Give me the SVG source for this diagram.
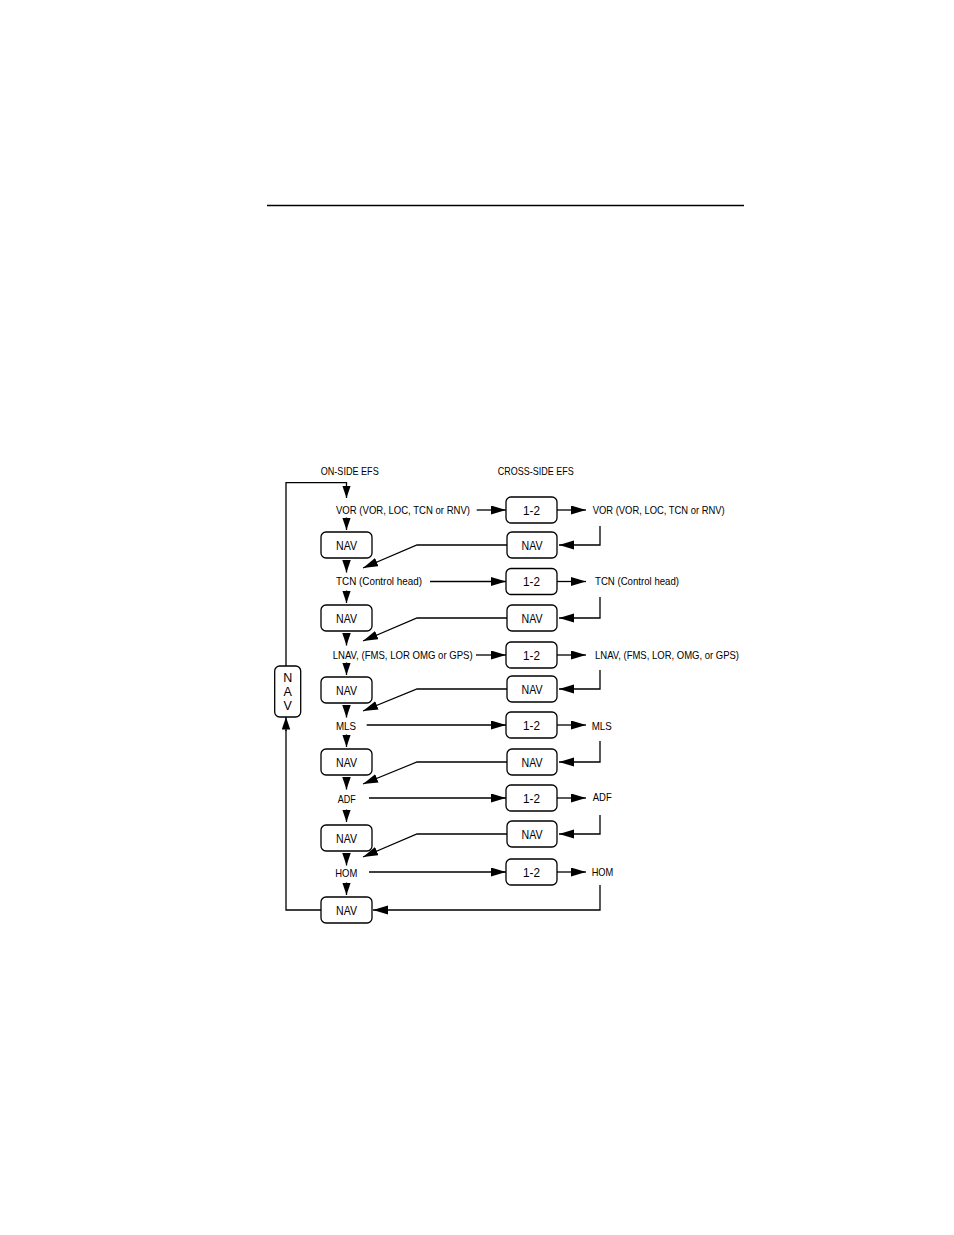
<svg xmlns="http://www.w3.org/2000/svg" width="954" height="1235" viewBox="0 0 954 1235">
<defs>
<marker id="ah" markerUnits="userSpaceOnUse" markerWidth="16" markerHeight="10" refX="15" refY="4.5" orient="auto">
<path d="M0,0 L15,4.5 L0,9 z" fill="#000"/>
</marker>
<marker id="av" markerUnits="userSpaceOnUse" markerWidth="13" markerHeight="10" refX="12.5" refY="4.25" orient="auto">
<path d="M0,0 L12.5,4.25 L0,8.5 z" fill="#000"/>
</marker>
<style>
.box{fill:#fff;stroke:#000;stroke-width:1.3}
.lbl{font-family:"Liberation Sans",Arial,sans-serif;font-size:10.3px;fill:#000}
.bl{font-family:"Liberation Sans",Arial,sans-serif;font-size:12.5px;fill:#000;text-anchor:middle}
.c{fill:none;stroke:#000;stroke-width:1.3}
.a{fill:none;stroke:#000;stroke-width:1.3;marker-end:url(#ah)}
.v{fill:none;stroke:#000;stroke-width:1.3;marker-end:url(#av)}
</style>
</defs>
<rect width="954" height="1235" fill="#fff"/>
<line x1="267" y1="205.5" x2="744" y2="205.5" stroke="#000" stroke-width="1.3"/>

<g id="headers">
<text class="lbl" x="320.7" y="474.5" textLength="58" lengthAdjust="spacingAndGlyphs">ON-SIDE EFS</text>
<text class="lbl" x="497.7" y="474.5" textLength="76" lengthAdjust="spacingAndGlyphs">CROSS-SIDE EFS</text>
</g>

<g id="connectors">
<polyline class="c" stroke-width="1.5" points="321,910 286,910 286,730"/>
<line class="v" x1="286" y1="731" x2="286" y2="717"/>
<polyline class="v" stroke-width="1.5" points="286,666 286,482.7 346.5,482.7 346.5,498"/>
<line class="v" x1="346.5" y1="517.5" x2="346.5" y2="530"/>
<line class="v" x1="346.5" y1="560" x2="346.5" y2="572.5"/>
<line class="v" x1="346.5" y1="590.5" x2="346.5" y2="603"/>
<line class="v" x1="346.5" y1="633" x2="346.5" y2="645.5"/>
<line class="v" x1="346.5" y1="662.5" x2="346.5" y2="675"/>
<line class="v" x1="346.5" y1="705" x2="346.5" y2="717.5"/>
<line class="v" x1="346.5" y1="734.5" x2="346.5" y2="747"/>
<line class="v" x1="346.5" y1="777" x2="346.5" y2="789.5"/>
<line class="v" x1="346.5" y1="809.5" x2="346.5" y2="822"/>
<line class="v" x1="346.5" y1="853" x2="346.5" y2="865.5"/>
<line class="v" x1="346.5" y1="882.5" x2="346.5" y2="895"/>
<line class="a" x1="476.7" y1="510" x2="506" y2="510"/>
<line class="a" x1="430" y1="581.5" x2="506" y2="581.5"/>
<line class="a" x1="476" y1="655" x2="506" y2="655"/>
<line class="a" x1="366.7" y1="725" x2="506" y2="725"/>
<line class="a" x1="369" y1="798" x2="506" y2="798"/>
<line class="a" x1="369" y1="872" x2="506" y2="872"/>
<line class="a" x1="557" y1="510" x2="586" y2="510"/>
<line class="a" x1="557" y1="581.5" x2="586" y2="581.5"/>
<line class="a" x1="557" y1="655" x2="586" y2="655"/>
<line class="a" x1="557" y1="725" x2="586" y2="725"/>
<line class="a" x1="557" y1="798" x2="586" y2="798"/>
<line class="a" x1="557" y1="872" x2="586" y2="872"/>
<polyline class="a" stroke-width="2" points="600,526 600,545 559,545"/>
<polyline class="a" points="600,597 600,618 559,618"/>
<polyline class="a" points="600,670 600,689 559,689"/>
<polyline class="a" points="600,741 600,762 559,762"/>
<polyline class="a" points="600,815 600,834 559,834"/>
<polyline class="a" points="600,885 600,910 373,910"/>
<polyline class="a" points="507,545 417,545 363,568"/>
<polyline class="a" points="507,618 417,618 363,641"/>
<polyline class="a" points="507,689 417,689 363,711"/>
<polyline class="a" points="507,762 417,762 363,784"/>
<polyline class="a" points="507,834 417,834 363,857"/>
</g>

<g id="nav-loop">
<rect class="box" x="274.7" y="666" width="26" height="51" rx="5"/>
<text class="bl" x="287.7" y="682.3" font-size="12">N</text>
<text class="bl" x="287.7" y="696" font-size="12">A</text>
<text class="bl" x="287.7" y="709.5" font-size="12">V</text>
</g>

<g id="on-side-labels">
<text class="lbl" x="336" y="513.6" textLength="134" lengthAdjust="spacingAndGlyphs">VOR (VOR, LOC, TCN or RNV)</text>
<text class="lbl" x="336" y="585.2" textLength="86" lengthAdjust="spacingAndGlyphs">TCN (Control head)</text>
<text class="lbl" x="332.7" y="658.6" textLength="140" lengthAdjust="spacingAndGlyphs">LNAV, (FMS, LOR OMG or GPS)</text>
<text class="lbl" x="336" y="729.6" textLength="20" lengthAdjust="spacingAndGlyphs">MLS</text>
<text class="lbl" x="337.7" y="802.6" textLength="18" lengthAdjust="spacingAndGlyphs">ADF</text>
<text class="lbl" x="335.3" y="877" textLength="22" lengthAdjust="spacingAndGlyphs">HOM</text>
</g>

<g id="cross-side-labels">
<text class="lbl" x="592.7" y="513.6" textLength="132" lengthAdjust="spacingAndGlyphs">VOR (VOR, LOC, TCN or RNV)</text>
<text class="lbl" x="595" y="585.2" textLength="84" lengthAdjust="spacingAndGlyphs">TCN (Control head)</text>
<text class="lbl" x="595" y="658.6" textLength="144" lengthAdjust="spacingAndGlyphs">LNAV, (FMS, LOR, OMG, or GPS)</text>
<text class="lbl" x="591.7" y="729.6" textLength="20" lengthAdjust="spacingAndGlyphs">MLS</text>
<text class="lbl" x="592.7" y="801.3" textLength="19" lengthAdjust="spacingAndGlyphs">ADF</text>
<text class="lbl" x="591.7" y="875.6" textLength="21.6" lengthAdjust="spacingAndGlyphs">HOM</text>
</g>

<g id="on-nav-1"><rect class="box" x="321" y="532" width="51" height="26" rx="5"/><text class="bl" x="346.5" y="549.5" textLength="21" lengthAdjust="spacingAndGlyphs">NAV</text></g>
<g id="on-nav-2"><rect class="box" x="321" y="605" width="51" height="26" rx="5"/><text class="bl" x="346.5" y="622.5" textLength="21" lengthAdjust="spacingAndGlyphs">NAV</text></g>
<g id="on-nav-3"><rect class="box" x="321" y="677" width="51" height="26" rx="5"/><text class="bl" x="346.5" y="694.5" textLength="21" lengthAdjust="spacingAndGlyphs">NAV</text></g>
<g id="on-nav-4"><rect class="box" x="321" y="749" width="51" height="26" rx="5"/><text class="bl" x="346.5" y="766.5" textLength="21" lengthAdjust="spacingAndGlyphs">NAV</text></g>
<g id="on-nav-5"><rect class="box" x="321" y="825" width="51" height="26" rx="5"/><text class="bl" x="346.5" y="842.5" textLength="21" lengthAdjust="spacingAndGlyphs">NAV</text></g>
<g id="on-nav-6"><rect class="box" x="321" y="897" width="51" height="26" rx="5"/><text class="bl" x="346.5" y="914.5" textLength="21" lengthAdjust="spacingAndGlyphs">NAV</text></g>

<g id="sel-1"><rect class="box" x="506" y="497" width="51" height="26" rx="5"/><text class="bl" x="531.5" y="514.5" textLength="17" lengthAdjust="spacingAndGlyphs">1-2</text></g>
<g id="sel-2"><rect class="box" x="506" y="568.5" width="51" height="26" rx="5"/><text class="bl" x="531.5" y="586" textLength="17" lengthAdjust="spacingAndGlyphs">1-2</text></g>
<g id="sel-3"><rect class="box" x="506" y="642" width="51" height="26" rx="5"/><text class="bl" x="531.5" y="659.5" textLength="17" lengthAdjust="spacingAndGlyphs">1-2</text></g>
<g id="sel-4"><rect class="box" x="506" y="712" width="51" height="26" rx="5"/><text class="bl" x="531.5" y="729.5" textLength="17" lengthAdjust="spacingAndGlyphs">1-2</text></g>
<g id="sel-5"><rect class="box" x="506" y="785" width="51" height="26" rx="5"/><text class="bl" x="531.5" y="802.5" textLength="17" lengthAdjust="spacingAndGlyphs">1-2</text></g>
<g id="sel-6"><rect class="box" x="506" y="859" width="51" height="26" rx="5"/><text class="bl" x="531.5" y="876.5" textLength="17" lengthAdjust="spacingAndGlyphs">1-2</text></g>

<g id="cross-nav-1"><rect class="box" x="507" y="532" width="50" height="26" rx="5"/><text class="bl" x="532" y="549.5" textLength="21" lengthAdjust="spacingAndGlyphs">NAV</text></g>
<g id="cross-nav-2"><rect class="box" x="507" y="605" width="50" height="26" rx="5"/><text class="bl" x="532" y="622.5" textLength="21" lengthAdjust="spacingAndGlyphs">NAV</text></g>
<g id="cross-nav-3"><rect class="box" x="507" y="676" width="50" height="26" rx="5"/><text class="bl" x="532" y="693.5" textLength="21" lengthAdjust="spacingAndGlyphs">NAV</text></g>
<g id="cross-nav-4"><rect class="box" x="507" y="749" width="50" height="26" rx="5"/><text class="bl" x="532" y="766.5" textLength="21" lengthAdjust="spacingAndGlyphs">NAV</text></g>
<g id="cross-nav-5"><rect class="box" x="507" y="821" width="50" height="26" rx="5"/><text class="bl" x="532" y="838.5" textLength="21" lengthAdjust="spacingAndGlyphs">NAV</text></g>
</svg>
